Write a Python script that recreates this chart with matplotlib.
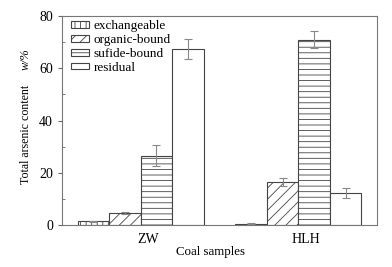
import matplotlib
matplotlib.use("Agg")
import matplotlib.pyplot as plt
import numpy as np

plt.rcParams['font.family'] = ['Liberation Serif', 'DejaVu Serif']
plt.rcParams['hatch.linewidth'] = 0.6

samples = ["ZW", "HLH"]
fractions = ["exchangeable", "organic-bound", "sufide-bound", "residual"]
values = {
    "ZW":  [1.5, 4.7, 26.6, 67.3],
    "HLH": [0.6, 16.4, 70.9, 12.3],
}
errors = {
    "ZW":  [0.2, 0.3, 4.0, 3.8],
    "HLH": [0.1, 1.5, 3.2, 2.0],
}
hatches = ["|||", "///", "---", ""]

fig = plt.figure(figsize=(3.92, 2.67), dpi=100)
ax = fig.add_axes([0.158, 0.157, 0.804, 0.783])

edge = "#444444"
for gi, s in enumerate(samples):
    base = gi * 5
    for i, f in enumerate(fractions):
        ax.bar(base + i, values[s][i], width=1.0, color="white", edgecolor=edge,
               hatch=hatches[i], linewidth=0.8, label=f if gi == 0 else None)
        ax.errorbar(base + i, values[s][i], yerr=errors[s][i], fmt="none",
                    ecolor="#888888", elinewidth=0.8, capsize=3, capthick=0.8)

ax.set_xlim(-1, 9)
ax.set_ylim(0, 80)
ax.set_xticks([1.75, 6.75])
ax.set_xticklabels(samples)
ax.set_yticks([0, 20, 40, 60, 80])
ax.set_yticks([10, 30, 50, 70], minor=True)
ax.tick_params(axis='x', length=0, labelsize=10, pad=6)
ax.tick_params(axis='y', which='major', direction='out', length=3, labelsize=10, color="#666666")
ax.tick_params(axis='y', which='minor', direction='in', length=2, color="#666666")
for sp in ax.spines.values():
    sp.set_color("#777777")
    sp.set_linewidth(0.8)

ax.set_xlabel("Coal samples", fontsize=9.3, labelpad=2)
ax.xaxis.set_label_coords(0.471, -0.1)
ax.xaxis.label.set_va('top')
fig.text(0.066, 0.496, "Total arsenic content", rotation=90, fontsize=8.6,
         ha='center', va='center')
fig.text(0.066, 0.78, "w/%", rotation=90, fontsize=8.8, style='italic',
         ha='center', va='center')

leg = ax.legend(loc='upper left', frameon=False, fontsize=9.5,
                handlelength=1.35, handleheight=0.4, handletextpad=0.35,
                labelspacing=0.14, borderaxespad=0.0, bbox_to_anchor=(0.013, 1.005))

fig.savefig("out.png", dpi=100)
